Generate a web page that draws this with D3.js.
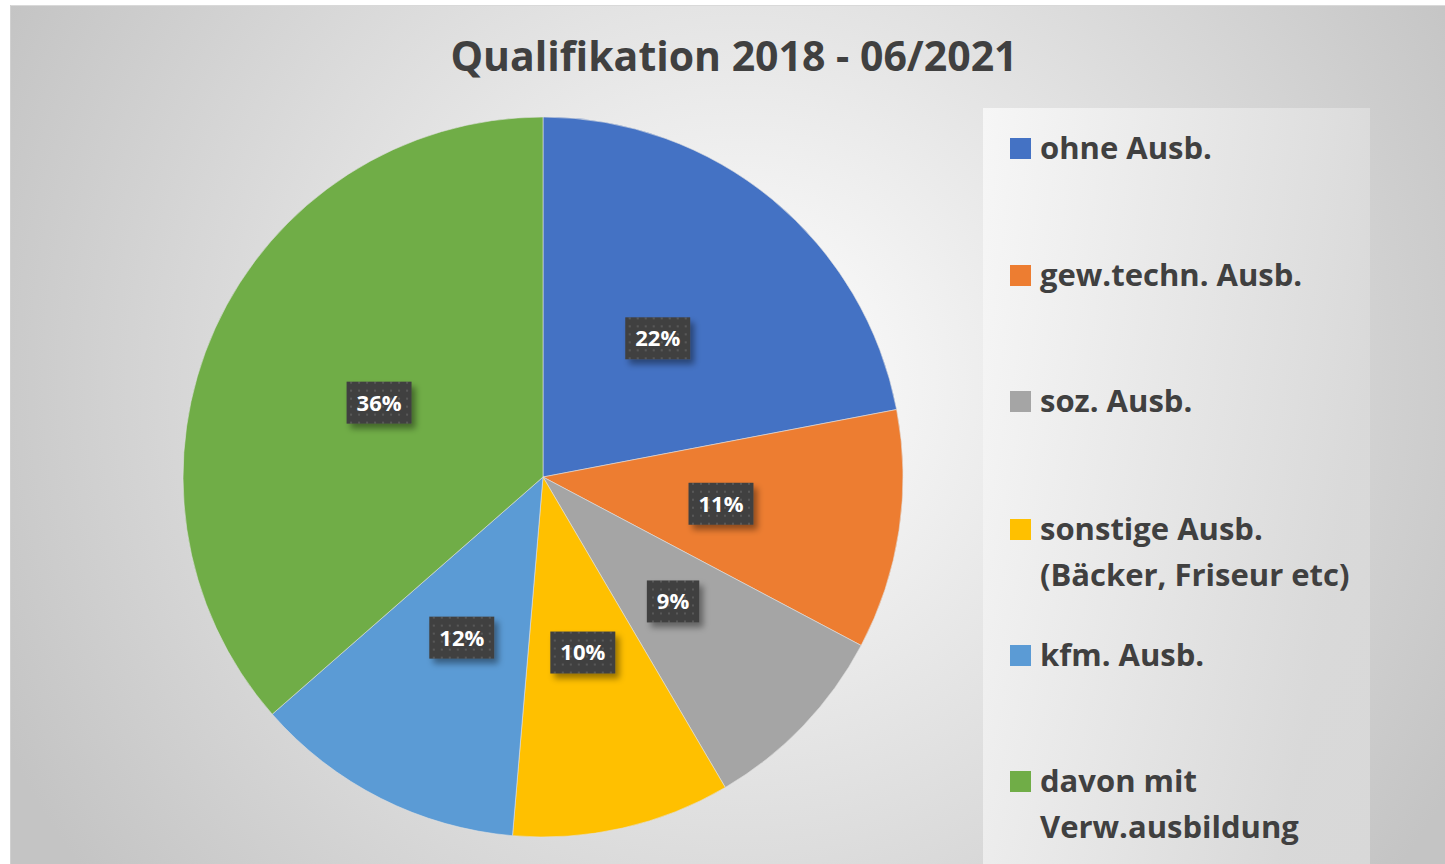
<!DOCTYPE html>
<html><head><meta charset="utf-8">
<script src="https://cdn.jsdelivr.net/npm/d3@7"></script>
<style>html,body{margin:0;padding:0;background:#fff;overflow:hidden}</style>
</head><body><svg id="c" width="1445" height="864"></svg>
<script>
const categories = ["ohne Ausb.", "gew.techn. Ausb.", "soz. Ausb.", "sonstige Ausb.\n(Bäcker, Friseur etc)", "kfm. Ausb.", "davon mit\nVerw.ausbildung"];
const values = [22.0, 10.75, 8.8, 9.8, 12.2, 36.45];
const colors = ["#4472C4", "#ED7D31", "#A5A5A5", "#FFC000", "#5B9BD5", "#70AD47"];
const title = "Qualifikation 2018 - 06/2021";

const FONT = "'Open Sans', Lato, sans-serif";
const svg = d3.select("#c");
const W = 1445, H = 864;
const defs = svg.append("defs");

const bg = defs.append("radialGradient").attr("id","bg").attr("gradientUnits","userSpaceOnUse")
  .attr("cx",740).attr("cy",380).attr("r",820);
bg.append("stop").attr("offset","0").attr("stop-color","#ffffff");
bg.append("stop").attr("offset","1").attr("stop-color","#c4c4c4");

const lg = defs.append("linearGradient").attr("id","lg").attr("x1","0").attr("y1","0").attr("x2","1").attr("y2","0.35");
lg.append("stop").attr("offset","0").attr("stop-color","#f8f8f8");
lg.append("stop").attr("offset","1").attr("stop-color","#dadada");

const pat = defs.append("pattern").attr("id","dots").attr("patternUnits","userSpaceOnUse").attr("width",8).attr("height",8);
pat.append("rect").attr("width",8).attr("height",8).attr("fill","#404040");
pat.append("rect").attr("x",3).attr("y",3).attr("width",2).attr("height",2).attr("fill","#595959");

const sh = defs.append("filter").attr("id","sh").attr("x","-30%").attr("y","-30%").attr("width","170%").attr("height","180%");
sh.append("feDropShadow").attr("dx",4).attr("dy",5).attr("stdDeviation",3).attr("flood-color","#000").attr("flood-opacity",0.4);

// chart area
svg.append("rect").attr("x",10).attr("y",5).attr("width",W-10).attr("height",H-5).attr("fill","url(#bg)");
svg.append("line").attr("x1",10).attr("x2",W).attr("y1",5.5).attr("y2",5.5).attr("stroke","#d9d9d9").attr("stroke-width",1);
svg.append("line").attr("x1",10.5).attr("x2",10.5).attr("y1",5).attr("y2",H).attr("stroke","#d0d0d0").attr("stroke-width",1);

// title
svg.append("text").attr("x",734).attr("y",71).attr("text-anchor","middle")
  .attr("font-family",FONT).attr("font-weight","bold").attr("font-size",41)
  .attr("fill","#404040").text(title);

// legend box
svg.append("rect").attr("x",983).attr("y",108).attr("width",387).attr("height",H-108).attr("fill","url(#lg)").attr("opacity",0.9);

// pie
const cx = 543, cy = 477, R = 360;
const pie = d3.pie().sort(null).value(d => d)(values);
const arc = d3.arc().innerRadius(0).outerRadius(R);
const labelArc = d3.arc().innerRadius(R*0.5).outerRadius(R*0.5);
const g = svg.append("g").attr("transform",`translate(${cx},${cy})`);
g.selectAll("path").data(pie).join("path").attr("d",arc)
  .attr("fill",(d,i)=>colors[i]).attr("stroke","#e0e0e0").attr("stroke-width",0.6);

const total = d3.sum(values);
const lab = g.selectAll("g.lab").data(pie).join("g").attr("class","lab")
  .attr("transform",d=>`translate(${labelArc.centroid(d)})`);
lab.each(function(d){
  const gg = d3.select(this);
  const txt = Math.round(d.value/total*100) + "%";
  const t = gg.append("text").attr("text-anchor","middle").attr("dy","0.36em")
    .attr("font-family",FONT).attr("font-weight","bold").attr("font-size",22)
    .attr("fill","#fff").text(txt);
  const w = t.node().getComputedTextLength() + 20;
  gg.insert("rect","text").attr("x",-w/2).attr("y",-21).attr("width",w).attr("height",42)
    .attr("fill","url(#dots)").attr("filter","url(#sh)");
});

// legend
const legY = [148, 275, 401, 529, 655, 781];
const leg = svg.append("g");
categories.forEach((c,i)=>{
  const gy = legY[i];
  leg.append("rect").attr("x",1010).attr("y",gy-10).attr("width",21).attr("height",21).attr("fill",colors[i]);
  const lines = c.split("\n");
  lines.forEach((ln,j)=>{
    leg.append("text").attr("x",1040).attr("y",gy+11+j*46)
      .attr("font-family",FONT).attr("font-weight","bold").attr("font-size",31)
      .attr("fill","#404040").text(ln);
  });
});
</script></body></html>
